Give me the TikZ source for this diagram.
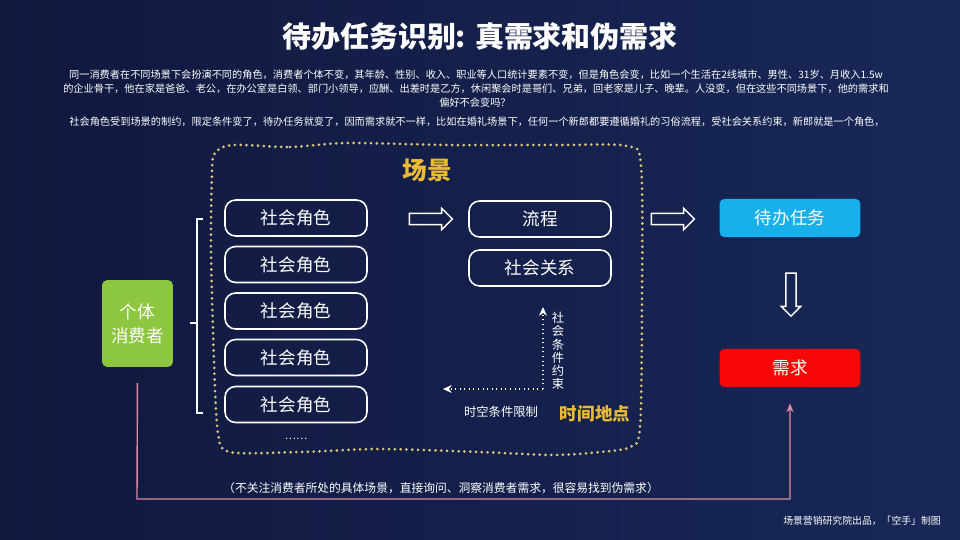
\documentclass[tikz,border=0pt]{standalone}
\usepackage{fontspec}
\setmainfont{Noto Sans CJK SC}
\usetikzlibrary{arrows.meta,shapes.arrows,positioning}

\definecolor{bgnavy}{RGB}{17,24,62}
\definecolor{bglight}{RGB}{24,40,88}
\definecolor{dotgold}{RGB}{222,200,120}
\definecolor{scenegold}{RGB}{236,186,48}
\definecolor{consumergreen}{RGB}{141,198,63}
\definecolor{taskblue}{RGB}{24,176,234}
\definecolor{needred}{RGB}{250,6,6}
\definecolor{linkpink}{RGB}{222,140,160}

\begin{document}
\begin{tikzpicture}
        [x=0.02cm, y=-0.02cm,
        rolebox/.style={draw=white, line width=0.9pt, rounded corners=6pt, minimum width=2.84cm, minimum height=0.72cm, text=white, font=\fontsize{10}{12}\selectfont},
        colorbox/.style={rounded corners=3pt, minimum width=2.82cm, minimum height=0.77cm, text=white, font=\fontsize{10}{12}\selectfont},
        hollowarrow/.style={single arrow, draw=white, line width=0.8pt, single arrow head extend=0.1cm, minimum height=0.86cm, inner sep=2.8pt},
        note/.style={text=white, font=\fontsize{5.8}{7}\selectfont, inner sep=0pt},
        scenebound/.style={dotgold, line width=1.7pt, line cap=round, dash pattern=on 0pt off 3.3pt},
        guide/.style={white, line width=0.6pt, dotted, -{Stealth[length=5pt, width=4.5pt]}},
        feedback/.style={linkpink, line width=0.8pt, -{Stealth[length=5pt, width=4pt]}},
        inner sep=2pt]

        % background
        \shade[left color=bgnavy, right color=bglight] (0,0) rectangle (960,540);
        \useasboundingbox (0,0) rectangle (960,540);

        % title and notes
        \node[text=white, font=\bfseries\fontsize{16.5}{20}\selectfont] (title) at (480,37) {待办任务识别: 真需求和伪需求};
        \node[note] (line1) at (476,75) {同一消费者在不同场景下会扮演不同的角色，消费者个体不变，其年龄、性别、收入、职业等人口统计要素不变，但是角色会变，比如一个生活在2线城市、男性、31岁、月收入1.5w};
        \node[note] (line2) at (476,89) {的企业骨干，他在家是爸爸、老公，在办公室是白领、部门小领导，应酬、出差时是乙方，休闲聚会时是哥们、兄弟，回老家是儿子、晚辈。人没变，但在这些不同场景下，他的需求和};
        \node[note] (line3) at (475,103) {偏好不会变吗？};
        \node[note] (line4) at (477,122) {社会角色受到场景的制约，限定条件变了，待办任务就变了，因而需求就不一样，比如在婚礼场景下，任何一个新郎都要遵循婚礼的习俗流程，受社会关系约束，新郎就是一个角色，};

        % --- Scene outline ---
        \draw[scenebound] plot[smooth cycle, tension=0.5] coordinates {
            (233,145) (290,147) (347,143) (450,145) (560,145) (627,146) (641,166)
            (642,300) (640,427) (630,447) (600,452) (554,455) (480,452) (380,449)
            (300,452) (230,452) (218,433) (214,360) (211,250) (212,173) (215,153)};
        \node[text=scenegold, font=\bfseries\fontsize{14}{16}\selectfont] (scene) at (427,170) {场景};
        \node[text=scenegold, font=\bfseries\fontsize{10}{12}\selectfont] (place) at (595,414) {时间地点};

        % roles
        \foreach \i/\y in {1/218, 2/264.5, 3/311, 4/357.5, 5/404.5}
            \node[rolebox] (role\i) at (296,\y) {社会角色};
        \node[text=white, font=\fontsize{6}{7}\selectfont] (more) at (296,439) {……};

        \node[rolebox] (flow) at (540,219) {流程};
        \node[rolebox] (relation) at (540,268) {社会关系};

        % consumer and bracket
        \node[colorbox, fill=consumergreen, minimum width=1.42cm, minimum height=1.74cm, align=center, font=\fontsize{10}{13.6}\selectfont] (consumer) at (137.5,323.5) {个体\\消费者};
        \coordinate (brtop) at (203,219);
        \coordinate (brbot) at (203,413);
        \coordinate (brmid) at (190,323);
        \draw[white, line width=0.6pt] (brtop) -- ++(-6,0) -- ++(0,194) -- (brbot);
        \draw[white, line width=0.6pt] (brmid) -- ++(7,0);

        % tasks and needs
        \node[colorbox, fill=taskblue] (task) at (790,218) {待办任务};
        \node[colorbox, fill=needred] (need) at (790,368) {需求};

        % hollow arrows
        \node[hollowarrow] (arrow1) at (428,219) {};
        \node[hollowarrow] (arrow2) at (670,219) {};
        \node[hollowarrow, shape border rotate=270, inner sep=2.5pt, single arrow head extend=0.09cm] (arrow3) at (791,292) {};

        % constraint guides
        \coordinate (corner) at (543,389);
        \coordinate (uptip) at (543,307);
        \coordinate (lefttip) at (443,389);
        \draw[guide] (corner) -- (uptip);
        \draw[guide] (corner) -- (lefttip);
        \node[text=white, align=center, font=\fontsize{7}{7.5}\selectfont, inner sep=0pt] (social) at (558,351) {社\\会\\条\\件\\约\\束};
        \node[text=white, font=\fontsize{7}{8}\selectfont] (spacetime) at (501,412) {时空条件限制};

        % direct path
        \draw[feedback, shorten <=9pt, shorten >=9pt] (consumer.south) -- (137,499) -| (need.south);
        \node[text=white, font=\fontsize{6.7}{8}\selectfont, inner sep=0pt] (direct) at (441,488) {（不关注消费者所处的具体场景，直接询问、洞察消费者需求，很容易找到伪需求）};

        \node[text=white, font=\fontsize{5.6}{7}\selectfont, inner sep=0pt] (credit) at (862,521) {场景营销研究院出品，「空手」制图};
    \end{tikzpicture}
\end{document}
